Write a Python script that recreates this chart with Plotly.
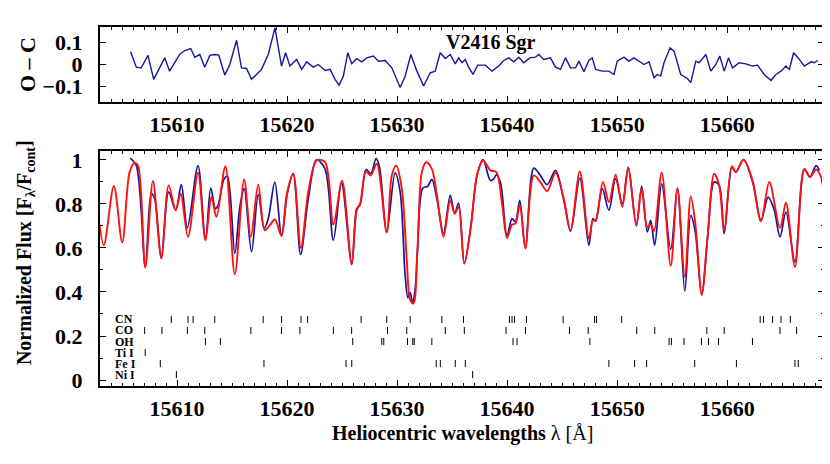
import plotly.graph_objects as go

# ---------------- data ----------------
oc_wl = [15605.78, 15606.30, 15606.75, 15607.36, 15607.88, 15608.42, 15608.88, 15609.33, 15609.79,
         15610.24, 15610.70, 15611.25, 15611.61, 15612.07, 15612.52, 15612.98, 15613.43, 15613.80,
         15614.34, 15614.80, 15615.41, 15615.86, 15616.32, 15616.77, 15617.23, 15617.68, 15618.29,
         15618.90, 15619.50, 15619.87, 15620.26, 15620.87, 15621.33, 15621.78, 15622.39, 15622.84,
         15623.45, 15623.91, 15624.36, 15624.73, 15625.12, 15625.52, 15625.88, 15626.33, 15626.79,
         15627.25, 15627.85, 15628.31, 15628.92, 15629.52, 15630.28, 15630.74, 15631.25, 15631.80,
         15632.41, 15633.01, 15633.47, 15633.92, 15634.38, 15634.83, 15635.29, 15635.59, 15635.90,
         15636.20, 15636.50, 15636.90, 15637.32, 15638.02, 15638.63, 15639.24, 15639.69, 15640.15,
         15640.60, 15641.06, 15641.51, 15642.06, 15642.57, 15642.88, 15643.33, 15643.94, 15644.40,
         15644.85, 15645.31, 15645.76, 15646.22, 15646.52, 15646.98, 15647.43, 15647.74, 15648.04,
         15648.65, 15649.25, 15649.71, 15650.01, 15650.62, 15651.07, 15651.53, 15651.99, 15652.44,
         15652.90, 15653.35, 15653.66, 15653.96, 15654.26, 15654.81, 15655.17, 15655.78, 15656.39,
         15656.69, 15657.15, 15657.45, 15658.06, 15658.51, 15658.97, 15659.33, 15659.73, 15660.12,
         15660.49, 15661.09, 15661.70, 15662.31, 15662.76, 15663.37, 15663.98, 15664.43, 15664.89,
         15665.34, 15665.65, 15666.04, 15666.56, 15667.01, 15667.62, 15667.92, 15668.23]
oc_val = [0.057, -0.012, -0.015, 0.041, -0.067, -0.015, 0.030, -0.030, 0.008,
          0.045, 0.063, 0.072, 0.033, 0.045, -0.012, 0.041, 0.045, 0.042,
          -0.048, 0.000, 0.109, -0.015, -0.018, -0.067, -0.045, -0.022, 0.045,
          0.165, -0.007, 0.053, -0.007, 0.023, -0.022, 0.012, -0.012, 0.000,
          -0.027, -0.022, -0.067, -0.093, -0.052, 0.053, 0.003, 0.026, 0.012,
          0.030, 0.038, 0.015, 0.018, -0.015, -0.104, -0.052, 0.045, -0.030,
          -0.097, -0.037, -0.030, 0.053, 0.027, 0.045, 0.003, 0.030, 0.008,
          0.023, -0.012, -0.045, -0.003, -0.003, -0.030, -0.007, 0.018, 0.030,
          0.012, 0.033, 0.008, 0.030, 0.033, 0.045, 0.023, 0.030, -0.012,
          -0.022, 0.030, -0.015, -0.015, 0.015, -0.033, 0.018, 0.030, -0.022,
          -0.030, -0.030, -0.045, 0.015, 0.033, 0.015, 0.030, 0.015, 0.000,
          0.012, -0.060, -0.045, -0.052, 0.008, 0.075, 0.060, -0.045, -0.063,
          -0.082, 0.015, 0.008, 0.045, -0.030, 0.000, 0.038, -0.030, 0.030,
          -0.015, 0.008, 0.003, -0.007, -0.003, -0.045, -0.072, -0.045, -0.030,
          -0.007, -0.022, 0.053, 0.023, -0.007, 0.012, 0.008, 0.018]

obs_wl = [15605.75, 15606.30, 15607.12, 15607.66, 15607.97, 15608.57, 15609.24, 15609.88, 15610.39,
          15610.94, 15611.91, 15612.58, 15613.07, 15613.49, 15613.73, 15614.28, 15614.58, 15615.25,
          15615.71, 15616.10, 15616.77, 15617.38, 15617.92, 15618.29, 15618.89, 15619.50, 15620.05,
          15620.56, 15621.23, 15621.93, 15622.69, 15623.45, 15624.21, 15624.95, 15625.88, 15626.33,
          15626.64, 15627.18, 15627.61, 15628.09, 15628.40, 15629.06, 15629.82, 15630.28, 15630.73,
          15630.98, 15631.19, 15631.40, 15631.65, 15631.86, 15632.34, 15632.77, 15633.16, 15633.62,
          15634.22, 15634.83, 15635.23, 15635.59, 15636.11, 15636.71, 15637.26, 15637.81, 15638.48,
          15638.78, 15639.02, 15639.39, 15639.99, 15640.45, 15640.75, 15641.15, 15641.66, 15642.42,
          15643.03, 15643.64, 15644.40, 15645.15, 15645.76, 15646.61, 15647.43, 15647.80, 15648.04,
          15648.65, 15649.25, 15649.86, 15650.47, 15651.01, 15651.74, 15652.23, 15652.74, 15653.05,
          15653.41, 15654.05, 15654.87, 15655.48, 15656.15, 15656.69, 15657.09, 15657.69, 15658.21,
          15658.82, 15659.27, 15659.73, 15660.43, 15660.79, 15661.49, 15662.31, 15663.07, 15663.73,
          15664.28, 15664.80, 15665.34, 15666.16, 15667.01, 15667.53, 15668.08, 15668.38]
obs_flux = [1.008, 0.974, 0.514, 0.846, 0.823, 0.555, 0.854, 0.771, 0.887,
            0.691, 0.974, 0.635, 0.872, 0.778, 0.793, 0.914, 0.926, 0.575,
            0.786, 0.869, 0.582, 0.842, 0.688, 0.733, 0.899, 0.655, 0.854,
            0.937, 0.570, 0.823, 1.000, 0.959, 0.635, 0.895, 0.525, 0.778,
            0.796, 0.956, 0.937, 1.005, 0.967, 0.673, 0.941, 0.854, 0.477,
            0.374, 0.397, 0.351, 0.416, 0.597, 0.872, 0.879, 0.911, 0.823,
            0.665, 0.839, 0.756, 0.804, 0.529, 0.703, 0.929, 1.001, 0.906,
            0.914, 0.932, 0.899, 0.655, 0.733, 0.718, 0.816, 0.597, 0.962,
            0.929, 0.887, 0.952, 0.816, 0.676, 0.917, 0.612, 0.733, 0.721,
            0.869, 0.771, 0.914, 0.801, 0.967, 0.700, 0.881, 0.673, 0.725,
            0.612, 0.891, 0.594, 0.872, 0.404, 0.748, 0.676, 0.386, 0.643,
            0.899, 0.884, 0.665, 0.967, 0.944, 1.001, 0.899, 0.725, 0.831,
            0.771, 0.650, 0.763, 0.537, 0.956, 0.922, 0.974, 0.952]

syn_wl = [15602.81, 15603.35, 15604.26, 15605.02, 15605.69, 15606.14, 15606.45, 15607.12, 15607.81,
          15608.57, 15609.24, 15609.88, 15610.33, 15611.00, 15611.91, 15612.58, 15613.13, 15613.58,
          15614.40, 15615.25, 15616.10, 15616.71, 15617.38, 15617.98, 15618.44, 15618.89, 15619.50,
          15619.96, 15620.56, 15621.26, 15621.93, 15622.69, 15623.45, 15624.21, 15625.00, 15625.88,
          15626.33, 15626.64, 15627.18, 15627.61, 15628.15, 15629.06, 15629.52, 15629.92, 15630.43,
          15630.89, 15631.19, 15631.49, 15631.86, 15632.25, 15632.65, 15633.16, 15633.62, 15634.22,
          15634.83, 15635.23, 15635.59, 15636.11, 15636.71, 15637.26, 15637.81, 15638.48, 15639.02,
          15639.54, 15639.99, 15640.45, 15640.75, 15641.15, 15641.66, 15642.42, 15643.03, 15643.64,
          15644.40, 15645.15, 15645.76, 15646.61, 15647.43, 15647.80, 15648.04, 15648.71, 15649.25,
          15649.86, 15650.47, 15651.01, 15651.74, 15652.23, 15652.74, 15653.05, 15653.35, 15654.05,
          15654.87, 15655.48, 15656.15, 15656.69, 15657.09, 15657.69, 15658.21, 15658.82, 15659.27,
          15659.73, 15660.43, 15660.79, 15661.49, 15662.31, 15663.07, 15663.83, 15664.80, 15665.34,
          15666.16, 15667.01, 15667.53, 15668.08, 15668.53, 15668.84]
syn_flux = [0.760, 0.612, 0.881, 0.625, 0.944, 0.986, 0.974, 0.511, 0.904,
            0.552, 0.884, 0.771, 0.846, 0.650, 0.941, 0.635, 0.831, 0.741,
            0.971, 0.480, 0.911, 0.650, 0.887, 0.680, 0.703, 0.730, 0.655,
            0.839, 0.937, 0.600, 0.854, 0.997, 0.990, 0.706, 0.905, 0.529,
            0.771, 0.801, 0.947, 0.929, 0.982, 0.670, 0.929, 0.974, 0.869,
            0.537, 0.364, 0.348, 0.597, 0.944, 0.989, 0.959, 0.839, 0.650,
            0.816, 0.756, 0.786, 0.529, 0.695, 0.929, 0.997, 0.952, 0.944,
            0.801, 0.646, 0.706, 0.710, 0.793, 0.600, 0.929, 0.899, 0.857,
            0.941, 0.823, 0.680, 0.947, 0.643, 0.725, 0.725, 0.899, 0.808,
            0.932, 0.786, 0.962, 0.703, 0.869, 0.695, 0.706, 0.676, 0.941,
            0.519, 0.869, 0.469, 0.834, 0.718, 0.389, 0.643, 0.937, 0.884,
            0.680, 0.971, 0.944, 1.001, 0.906, 0.721, 0.899, 0.691, 0.805,
            0.514, 0.959, 0.922, 0.956, 0.922, 0.808]

species = ["CN", "CO", "OH", "Ti I", "Fe I", "Ni I"]
cn_lines = [15609.48, 15611.00, 15611.46, 15613.43, 15617.83, 15619.50, 15621.27, 15621.87, 15626.73,
            15629.06, 15631.19, 15634.07, 15636.04, 15640.21, 15640.45, 15640.67, 15641.76, 15645.09,
            15647.95, 15648.13, 15650.41, 15663.00, 15663.30, 15664.13, 15664.89, 15665.74]
co_lines = [15607.06, 15608.63, 15610.94, 15612.52, 15616.71, 15619.50, 15621.17, 15624.21, 15625.87,
            15629.13, 15630.88, 15634.38, 15636.11, 15639.90, 15641.67, 15645.67, 15647.37, 15651.78,
            15653.42, 15658.15, 15659.73, 15664.80, 15666.31]
oh_lines = [15612.58, 15613.94, 15625.97, 15628.61, 15628.79, 15630.95, 15631.43, 15631.56, 15633.16,
            15640.54, 15640.90, 15647.52, 15654.72, 15654.93, 15656.08, 15657.66, 15658.30, 15659.21,
            15662.30]
ti_lines = [15607.11]
fe_lines = [15608.48, 15617.90, 15625.36, 15625.88, 15633.56, 15633.93, 15635.29, 15636.20, 15649.25,
            15651.59, 15652.68, 15657.05, 15660.84, 15666.16, 15666.46]
ni_lines = [15609.94, 15636.87]
line_lists = [cn_lines, co_lines, oh_lines, ti_lines, fe_lines, ni_lines]

star_name = "V2416 Sgr"
x_ticks = [15610, 15620, 15630, 15640, 15650, 15660]

# ---------------- layout constants ----------------
ROW_Y = [0.275, 0.225, 0.175, 0.125, 0.075, 0.025]
HALF = 0.016
FONT = "Liberation Serif, Times New Roman, serif"
NAVY = "#16169a"
RED = "#ff1010"

fig = go.Figure()

fig.add_trace(go.Scatter(x=oc_wl, y=oc_val, mode="lines", xaxis="x", yaxis="y",
                         line=dict(color=NAVY, width=1.4), showlegend=False))

fig.add_trace(go.Scatter(x=obs_wl, y=obs_flux, mode="lines", xaxis="x2", yaxis="y2",
                         line=dict(color=NAVY, width=1.7, shape="spline", smoothing=0.9),
                         showlegend=False))
fig.add_trace(go.Scatter(x=syn_wl, y=syn_flux, mode="lines", xaxis="x2", yaxis="y2",
                         line=dict(color=RED, width=1.9, shape="spline", smoothing=0.9),
                         showlegend=False))

for name, lines, ry in zip(species, line_lists, ROW_Y):
    xs, ys = [], []
    for w in lines:
        xs += [w, w, None]
        ys += [ry - HALF, ry + HALF, None]
    fig.add_trace(go.Scatter(x=xs, y=ys, mode="lines", xaxis="x2", yaxis="y2",
                             line=dict(color="black", width=1), showlegend=False))
    fig.add_annotation(x=15604.2, y=ry, xref="x2", yref="y2", text=name, showarrow=False,
                       xanchor="left", yanchor="middle",
                       font=dict(family=FONT, size=12, color="black", weight="bold"))

axis_common = dict(showline=True, linewidth=2, linecolor="black", mirror="allticks",
                   ticks="inside", tickwidth=1.3, tickcolor="black", showgrid=False,
                   zeroline=False,
                   tickfont=dict(family=FONT, size=22, color="black", weight="bold"))

XR = [15603.0, 15668.8]
fig.update_layout(
    width=830, height=464,
    paper_bgcolor="white", plot_bgcolor="white",
    margin=dict(l=92, r=14, t=19, b=86),
    xaxis=dict(axis_common, domain=[0, 1], anchor="y", range=XR, tickvals=x_ticks,
               tickformat="d", ticklen=6, ticklabelstandoff=2,
               minor=dict(dtick=1, tick0=15600, ticklen=3, ticks="inside", tickcolor="black", tickwidth=1.2)),
    yaxis=dict(axis_common, domain=[0.7911, 1], anchor="x", range=[-0.169, 0.169],
               tickvals=[-0.1, 0, 0.1], ticklen=6, ticklabelstandoff=11),
    xaxis2=dict(axis_common, domain=[0, 1], anchor="y2", range=XR, tickvals=x_ticks,
                tickformat="d", ticklen=6, ticklabelstandoff=2,
                minor=dict(dtick=1, tick0=15600, ticklen=3, ticks="inside", tickcolor="black", tickwidth=1.2)),
    yaxis2=dict(axis_common, domain=[0, 0.6546], anchor="x2", range=[-0.027, 1.04],
                tickvals=[0, 0.2, 0.4, 0.6, 0.8, 1.0], ticklen=6, ticklabelstandoff=11,
                minor=dict(dtick=0.1, tick0=0, ticklen=3, ticks="inside", tickcolor="black", tickwidth=1.2)),
)

fig.add_annotation(x=15638.5, y=0.097, xref="x", yref="y", text="<b>" + star_name + "</b>",
                   showarrow=False, xanchor="center", yanchor="middle",
                   font=dict(family=FONT, size=20, color="black"))
fig.add_annotation(x=-0.1008, y=0.894, xref="paper", yref="paper", text="<b>O – C</b>",
                   showarrow=False, textangle=-90, xanchor="center", yanchor="middle",
                   font=dict(family=FONT, size=22, color="black"))
fig.add_annotation(x=-0.1036, y=0.373, xref="paper", yref="paper",
                   text="<b>Normalized Flux [F<sub>λ</sub>/F<sub>cont</sub>]</b>",
                   showarrow=False, textangle=-90, xanchor="center", yanchor="middle",
                   font=dict(family=FONT, size=20, color="black"))
fig.add_annotation(x=0.5, y=-0.131, xref="paper", yref="paper",
                   text="<b>Heliocentric wavelengths</b> λ [Å]",
                   showarrow=False, xanchor="center", yanchor="middle",
                   font=dict(family=FONT, size=20, color="black"))

fig.write_html("out.html")
